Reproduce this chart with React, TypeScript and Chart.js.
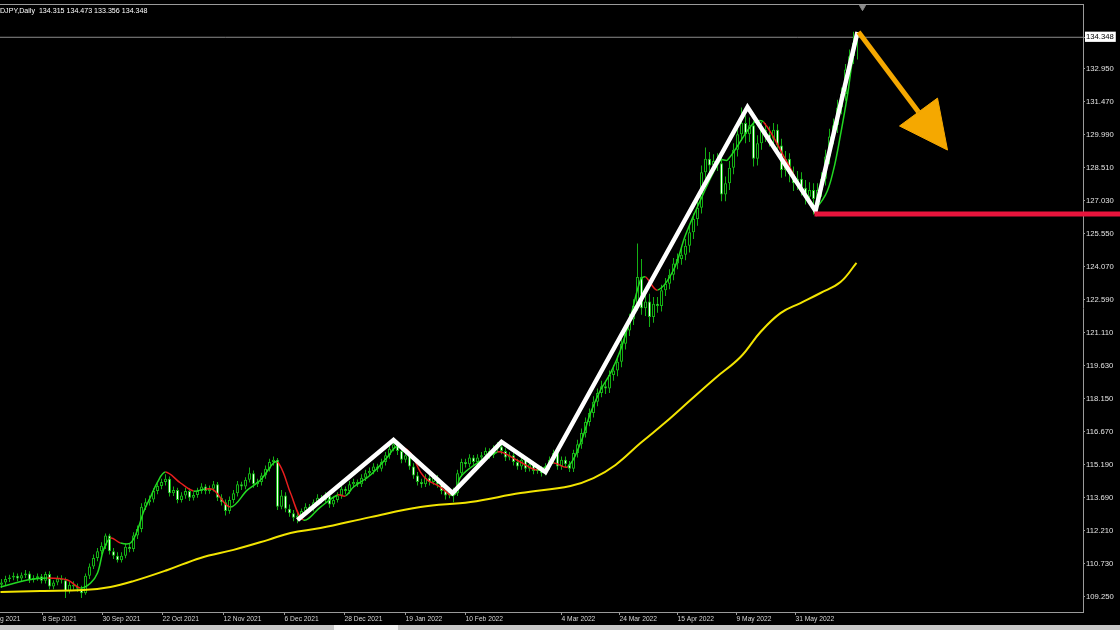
import React, { useEffect, useRef } from "react";
import { Chart, registerables } from "chart.js";

Chart.register(...registerables);

const SYMBOL = "USDJPY,Daily";

// Daily candles (bar index 0 = first visible bar)
const opens = [
  109.80,109.90,110.05,110.12,110.20,110.08,110.22,110.30,110.02,110.10,
  110.18,109.98,110.28,109.72,109.90,110.08,110.00,109.52,109.80,109.72,
  109.62,109.42,110.20,110.62,111.00,111.30,111.55,112.00,111.30,111.10,
  110.90,111.10,111.50,111.40,112.00,112.30,113.30,113.50,113.62,114.00,
  114.22,114.40,114.55,113.90,114.05,113.60,113.80,114.00,113.70,113.82,
  114.00,114.20,114.00,114.10,114.30,113.70,113.50,113.10,113.60,113.90,
  114.30,114.20,114.50,114.80,114.30,114.40,114.70,115.00,115.30,115.40,
  113.30,113.80,113.20,113.00,112.80,112.90,113.10,113.30,113.20,113.50,
  113.70,113.60,113.80,113.40,113.60,113.80,114.10,114.00,114.30,114.40,
  114.30,114.60,114.80,114.90,115.10,115.00,115.30,115.60,115.90,116.10,
  115.80,115.40,115.60,115.10,114.70,114.40,114.30,114.60,114.40,114.60,
  114.30,114.00,113.80,114.00,113.90,114.80,115.30,115.20,115.50,115.30,
  115.50,115.60,115.80,115.60,115.90,116.00,115.80,115.50,115.60,115.30,
  115.10,115.40,115.00,115.20,114.90,115.00,114.80,115.10,115.40,115.70,
  115.10,115.40,115.20,115.00,115.70,116.10,116.60,117.10,117.50,118.00,
  118.40,118.70,118.60,119.20,119.40,119.80,120.60,121.20,121.70,122.30,
  123.60,122.20,122.50,121.80,122.40,122.30,123.00,123.30,123.70,124.20,
  124.40,124.60,125.00,125.60,126.20,126.70,128.30,128.90,128.60,128.80,
  128.70,127.30,127.80,128.50,129.30,130.00,130.50,130.00,130.40,128.90,
  129.60,130.20,130.00,129.80,130.20,129.50,128.40,128.90,128.20,127.80,
  128.00,127.60,127.20,127.50,127.10,127.50,128.00,129.00,129.90,130.40,
  131.20,131.80,132.90,133.50,134.315,
];
const highs = [
  110.05,110.20,110.25,110.35,110.30,110.35,110.46,110.40,110.22,110.30,
  110.28,110.38,110.40,110.00,110.20,110.22,110.12,109.92,109.95,109.85,
  109.75,110.30,110.75,111.15,111.45,111.70,112.10,112.08,111.45,111.25,
  111.25,111.62,111.65,112.15,112.45,113.45,113.68,113.80,114.12,114.35,
  114.55,114.75,114.65,114.20,114.15,113.95,114.15,114.12,113.95,114.15,
  114.35,114.30,114.25,114.45,114.40,113.85,113.62,113.75,114.05,114.45,
  114.42,114.62,115.05,114.92,114.55,114.82,115.15,115.45,115.55,115.48,
  114.05,113.95,113.40,113.15,113.05,113.22,113.45,113.42,113.62,113.85,
  113.82,113.95,113.92,113.75,113.95,114.25,114.20,114.45,114.55,114.52,
  114.75,114.95,115.05,115.25,115.22,115.45,115.75,116.05,116.30,116.22,
  115.95,115.75,115.80,115.25,114.85,114.55,114.75,114.72,114.75,114.72,
  114.42,114.15,114.12,114.15,114.95,115.45,115.45,115.65,115.62,115.65,
  115.75,115.95,115.92,116.05,116.20,116.30,115.92,115.75,115.72,115.45,
  115.55,115.52,115.35,115.32,115.15,115.12,115.25,115.55,115.85,115.82,
  115.55,115.55,115.35,115.85,116.30,116.80,117.30,117.70,118.25,118.60,
  118.95,118.95,119.40,119.65,120.05,120.85,121.45,121.95,122.60,125.10,
  124.40,123.00,122.85,122.70,122.70,123.25,123.55,123.95,124.45,124.65,
  124.90,125.30,125.90,126.45,127.00,128.60,129.40,129.20,129.10,129.15,
  129.00,128.10,128.80,129.60,130.35,131.20,130.85,130.75,130.60,129.95,
  130.55,130.50,130.35,130.50,130.45,129.80,129.25,129.15,128.55,128.35,
  128.30,127.95,127.85,127.80,127.80,128.30,129.30,130.25,130.70,131.55,
  132.10,133.15,133.80,134.60,134.473,
];
const lows = [
  109.65,109.78,109.92,110.00,109.95,109.95,110.10,109.88,109.90,109.98,
  109.85,109.85,109.60,109.60,109.78,109.85,109.20,109.40,109.58,109.48,
  109.20,109.35,110.05,110.50,110.85,111.15,111.40,111.15,110.95,110.80,
  110.80,110.98,111.25,111.28,111.85,112.15,113.15,113.35,113.48,113.85,
  114.08,114.25,113.75,113.78,113.45,113.48,113.65,113.55,113.58,113.70,
  113.88,113.85,113.88,113.98,113.55,113.35,112.90,112.98,113.45,113.75,
  114.05,114.08,114.38,114.15,114.18,114.25,114.55,114.88,115.15,113.15,
  113.18,113.05,112.85,112.65,112.55,112.78,112.98,113.05,113.08,113.38,
  113.45,113.48,113.25,113.28,113.48,113.65,113.85,113.88,114.15,114.18,
  114.18,114.45,114.68,114.75,114.85,114.88,115.15,115.45,115.78,115.62,
  115.25,115.28,114.95,114.55,114.25,114.15,114.18,114.25,114.28,114.15,
  113.85,113.62,113.68,113.50,113.78,114.65,115.05,115.08,115.15,115.18,
  115.38,115.45,115.45,115.48,115.75,115.65,115.35,115.38,115.15,114.95,
  114.95,114.85,114.88,114.75,114.78,114.65,114.70,114.95,115.25,114.95,
  114.95,115.05,114.85,114.85,115.50,115.90,116.40,116.90,117.30,117.80,
  118.20,118.35,118.40,118.95,119.15,119.55,120.35,120.95,121.45,122.10,
  121.90,121.85,121.35,121.55,122.00,122.05,122.75,123.05,123.45,123.95,
  124.15,124.35,124.70,125.30,125.90,126.45,127.95,128.20,128.25,128.35,
  127.00,127.00,127.50,128.20,129.00,129.70,129.60,129.65,128.55,128.60,
  129.30,129.65,129.45,129.50,129.15,128.05,128.10,127.85,127.45,127.50,
  127.25,126.85,126.90,126.40,126.80,127.20,127.70,128.65,129.55,130.05,
  130.90,131.50,132.55,133.15,133.356,
];
const closes = [
  109.90,110.05,110.12,110.20,110.08,110.22,110.30,110.02,110.10,110.18,
  109.98,110.28,109.72,109.90,110.08,110.00,109.52,109.80,109.72,109.62,
  109.42,110.20,110.62,111.00,111.30,111.55,112.00,111.30,111.10,110.90,
  111.10,111.50,111.40,112.00,112.30,113.30,113.50,113.62,114.00,114.22,
  114.40,114.55,113.90,114.05,113.60,113.80,114.00,113.70,113.82,114.00,
  114.20,114.00,114.10,114.30,113.70,113.50,113.10,113.60,113.90,114.30,
  114.20,114.50,114.80,114.30,114.40,114.70,115.00,115.30,115.40,113.30,
  113.80,113.20,113.00,112.80,112.90,113.10,113.30,113.20,113.50,113.70,
  113.60,113.80,113.40,113.60,113.80,114.10,114.00,114.30,114.40,114.30,
  114.60,114.80,114.90,115.10,115.00,115.30,115.60,115.90,116.10,115.80,
  115.40,115.60,115.10,114.70,114.40,114.30,114.60,114.40,114.60,114.30,
  114.00,113.80,114.00,113.90,114.80,115.30,115.20,115.50,115.30,115.50,
  115.60,115.80,115.60,115.90,116.00,115.80,115.50,115.60,115.30,115.10,
  115.40,115.00,115.20,114.90,115.00,114.80,115.10,115.40,115.70,115.10,
  115.40,115.20,115.00,115.70,116.10,116.60,117.10,117.50,118.00,118.40,
  118.70,118.60,119.20,119.40,119.80,120.60,121.20,121.70,122.30,123.60,
  122.20,122.50,121.80,122.40,122.30,123.00,123.30,123.70,124.20,124.40,
  124.60,125.00,125.60,126.20,126.70,128.30,128.90,128.60,128.80,128.70,
  127.30,127.80,128.50,129.30,130.00,130.50,130.00,130.40,128.90,129.60,
  130.20,130.00,129.80,130.20,129.50,128.40,128.90,128.20,127.80,128.00,
  127.60,127.20,127.50,127.10,127.50,128.00,129.00,129.90,130.40,131.20,
  131.80,132.90,133.50,134.10,134.348,
];

// Fast moving average (green rising / red falling), read at bar positions
const fastMaIdx = [-0.25,6.5,11.5,16.5,19.75,22.25,24,25.5,27.25,29.75,32.25,34,35.5,37.25,39,41,44.75,48,51,53,57.25,61.5,64.75,68,69,70.5,72.25,75.5,79.75,84,86,88,92.25,96.5,98.5,100.25,102.25,104.75,106.5,109.75,112.25,113.5,114.75,119,124,125.5,129.75,134,138,141.5,144.75,147.25,149.75,152.25,154.75,157.25,159.75,161,164,168,171,174.75,179.75,181.5,188,190.5,196.5,203,206,208,209.75,211.5,212.75,214];
const fastMaVal = [109.70,110.01,110.10,110.01,109.65,109.87,110.32,111.36,111.89,111.67,111.67,112.25,113.06,113.73,114.40,114.85,114.36,114.00,114.09,114.05,113.28,114.05,114.49,115.26,115.30,114.81,113.91,112.70,113.28,113.82,113.78,114.18,114.72,115.53,115.97,115.97,115.71,114.85,114.49,114.18,113.82,113.87,114.63,115.26,115.75,115.71,115.30,114.94,115.26,115.08,116.15,117.50,118.53,119.29,120.32,121.80,123.46,123.60,123.01,123.91,125.48,127.05,128.84,128.84,130.50,130.55,128.71,126.74,127.28,128.40,129.97,131.76,133.33,134.45];

// Slow moving average (yellow)
const slowMaIdx = [-0.25,9.75,20.5,27.25,33,41.5,49.75,58,66.5,72.25,79.75,92.25,104.75,117.25,129.75,142.25,148,153.5,159.75,166,172.25,178.5,184.75,189.75,194.75,199.75,204.75,209.75,213.75];
const slowMaVal = [109.47,109.52,109.56,109.70,109.96,110.46,111.00,111.36,111.80,112.12,112.34,112.83,113.28,113.51,113.91,114.23,114.58,115.17,116.15,117.08,118.08,119.07,120.01,121.13,121.98,122.43,122.88,123.37,124.23];

// Hand-drawn objects
const zigzagIdx = [74, 98, 112.75, 125, 136, 186.5, 203.5, 214];
const zigzagPrice = [112.70, 116.29, 113.91, 116.20, 114.85, 131.22, 126.56, 134.58];
const supportIdx = [203.25, 279.75];
const supportLevel = 126.42;
const arrowShaftIdx = [214.25, 229.25];
const arrowShaftPrice = [134.585, 131.0];
const arrowHeadIdx = [224.5, 234, 236.5, 224.5];
const arrowHeadPrice = [130.37, 131.62, 129.29, 130.37];
const shiftMarkerIdx = 215.25;
const shiftMarkerPrice = 135.70;

// Axes
const xTickIdx = [-4.75, 10.25, 25.25, 40.25, 55.5, 70.75, 85.75, 101, 116, 140, 154.5, 169, 183.75, 198.5];
const xTickLabels = ["17 Aug 2021","8 Sep 2021","30 Sep 2021","22 Oct 2021","12 Nov 2021","6 Dec 2021","28 Dec 2021","19 Jan 2022","10 Feb 2022","4 Mar 2022","24 Mar 2022","15 Apr 2022","9 May 2022","31 May 2022"];
const yTickValues = [109.25,110.73,112.21,113.69,115.19,116.67,118.15,119.63,121.11,122.59,124.07,125.55,127.03,128.51,129.99,131.47,132.95];
const X_MIN = -15.375;
const X_MAX = 270.375;
const Y_MIN = 108.575;
const Y_MAX = 135.84;

const SHIFT = 60; // canvas is shifted left so the first date label is cut like the original

export default function App() {
  const ref = useRef<HTMLCanvasElement>(null);

  useEffect(() => {
    const canvas = ref.current as HTMLCanvasElement;
    const last = closes.length - 1;
    const lastClose = closes[last];
    const candleGreen = "#14b014";
    const axisGray = "#9a9a9a";
    const font = '"Liberation Sans", Arial, sans-serif';

    const bodies = closes.map((c, i) => ({ x: i, y: [opens[i], c] }));
    const wicks = closes.map((_, i) => ({ x: i, y: [lows[i], highs[i]] }));
    const pts = (xs: number[], ys: number[]) => xs.map((x, i) => ({ x, y: ys[i] }));

    const headerPlugin = {
      id: "header",
      afterDraw(chart: any) {
        const { ctx, chartArea } = chart;
        ctx.save();
        ctx.font = `7.1px ${font}`;
        ctx.fillStyle = "#ffffff";
        ctx.textBaseline = "middle";
        const text = `${SYMBOL}  ${opens[last].toFixed(3)} ${highs[last].toFixed(3)} ${lows[last].toFixed(3)} ${lastClose.toFixed(3)}`;
        const cut = ctx.measureText("US").width;
        ctx.fillText(text, chartArea.left + SHIFT - cut, 11);
        ctx.restore();
      },
    };

    const chart = new Chart(canvas, {
      type: "bar",
      data: {
        datasets: [
          {
            type: "line",
            data: [{ x: X_MIN, y: lastClose }, { x: X_MAX, y: lastClose }],
            borderColor: "#8c8c8c",
            borderWidth: 1,
            pointRadius: 0,
            order: 6,
            xAxisID: "x",
            yAxisID: "y",
          },
          {
            type: "bar",
            data: wicks,
            backgroundColor: candleGreen,
            borderWidth: 0,
            barThickness: 1,
            grouped: false,
            inflateAmount: 0,
            order: 5,
            xAxisID: "x",
            yAxisID: "y",
          },
          {
            type: "bar",
            data: bodies,
            backgroundColor: (c: any) =>
              closes[c.dataIndex] >= opens[c.dataIndex] ? "#000000" : "#f2fff2",
            borderColor: candleGreen,
            borderWidth: 1,
            borderSkipped: false,
            barThickness: 3,
            grouped: false,
            inflateAmount: 0,
            order: 4,
            xAxisID: "x",
            yAxisID: "y",
          },
          {
            type: "line",
            data: pts(slowMaIdx, slowMaVal),
            borderColor: "#f2e400",
            borderWidth: 2,
            pointRadius: 0,
            tension: 0.4,
            order: 3,
            xAxisID: "x",
            yAxisID: "y",
          },
          {
            type: "line",
            data: pts(fastMaIdx, fastMaVal),
            borderColor: "#22d822",
            borderWidth: 1.5,
            pointRadius: 0,
            tension: 0.35,
            segment: {
              borderColor: (c: any) =>
                c.p1.parsed.y < c.p0.parsed.y - 0.01 ? "#e81e1e" : "#22d822",
            },
            order: 2,
            xAxisID: "x",
            yAxisID: "y",
          },
          {
            type: "line",
            data: pts(zigzagIdx, zigzagPrice),
            borderColor: "#ffffff",
            borderWidth: 4.5,
            borderJoinStyle: "miter",
            pointRadius: 0,
            tension: 0,
            order: 1,
            xAxisID: "x",
            yAxisID: "y",
          },
          {
            type: "line",
            data: supportIdx.map((x) => ({ x, y: supportLevel })),
            borderColor: "#e8143c",
            borderWidth: 5,
            pointRadius: 0,
            clip: false,
            order: 0,
            xAxisID: "x",
            yAxisID: "y",
          },
          {
            type: "line",
            data: pts(arrowShaftIdx, arrowShaftPrice),
            borderColor: "#f5a800",
            borderWidth: 5,
            pointRadius: 0,
            clip: false,
            order: 0,
            xAxisID: "x",
            yAxisID: "y",
          },
          {
            type: "line",
            data: pts(arrowHeadIdx, arrowHeadPrice),
            borderColor: "#f5a800",
            backgroundColor: "#f5a800",
            borderWidth: 1,
            fill: "shape",
            pointRadius: 0,
            tension: 0,
            clip: false,
            order: 0,
            xAxisID: "x",
            yAxisID: "y",
          },
          {
            type: "line",
            data: [{ x: shiftMarkerIdx, y: shiftMarkerPrice }],
            showLine: false,
            pointStyle: "triangle",
            rotation: 180,
            pointRadius: 3.5,
            pointBackgroundColor: "#8c8c8c",
            pointBorderColor: "#8c8c8c",
            clip: false,
            order: 0,
            xAxisID: "x",
            yAxisID: "y",
          },
        ],
      } as any,
      options: {
        animation: false,
        responsive: false,
        devicePixelRatio: 1,
        events: [],
        layout: { padding: 0, autoPadding: false },
        plugins: {
          legend: { display: false },
          tooltip: { enabled: false },
          title: { display: false },
        },
        scales: {
          x: {
            type: "linear",
            position: "bottom",
            min: X_MIN,
            max: X_MAX,
            offset: false,
            afterBuildTicks: (s: any) => {
              s.ticks = xTickIdx.map((v) => ({ value: v }));
            },
            afterFit: (s: any) => {
              s.height = 13;
              s.paddingLeft = 0;
              s.paddingRight = 0;
            },
            ticks: {
              autoSkip: false,
              maxRotation: 0,
              minRotation: 0,
              align: "start",
              padding: 0,
              color: "#d6d6d6",
              font: { family: font, size: 6.7 },
              callback: (_v: any, i: number) => xTickLabels[i],
            },
            grid: {
              display: true,
              drawOnChartArea: false,
              drawTicks: true,
              tickLength: 3,
              color: axisGray,
              offset: false,
            },
            border: { display: true, color: axisGray, width: 1 },
          },
          xTop: {
            type: "linear",
            position: "top",
            min: 0,
            max: 1,
            ticks: { display: false },
            grid: { display: false, drawTicks: false },
            border: { display: true, color: axisGray, width: 1 },
            afterFit: (s: any) => {
              s.height = 4;
              s.paddingLeft = 0;
              s.paddingRight = 0;
            },
          },
          y: {
            type: "linear",
            position: "right",
            min: Y_MIN,
            max: Y_MAX,
            beginAtZero: false,
            afterBuildTicks: (s: any) => {
              s.ticks = [...yTickValues, lastClose].map((v) => ({ value: v }));
            },
            afterFit: (s: any) => {
              s.width = 37;
              s.paddingTop = 0;
              s.paddingBottom = 0;
            },
            ticks: {
              autoSkip: false,
              padding: 1,
              font: { family: font, size: 7.7 },
              color: (c: any) => (c.tick && c.tick.value === lastClose ? "#000000" : "#e2e2e2"),
              showLabelBackdrop: (c: any) => !!(c.tick && c.tick.value === lastClose),
              backdropColor: "#ffffff",
              backdropPadding: { left: 1, right: 2, top: 1, bottom: 0 },
              callback: (v: any) => Number(v).toFixed(3),
            },
            grid: {
              display: true,
              drawOnChartArea: false,
              drawTicks: true,
              tickLength: 2,
              color: axisGray,
            },
            border: { display: true, color: axisGray, width: 1 },
          },
        },
      } as any,
      plugins: [headerPlugin],
    });
    return () => chart.destroy();
  }, []);

  return (
    <div
      style={{
        position: "fixed",
        left: 0,
        top: 0,
        width: 1120,
        height: 630,
        overflow: "hidden",
        background: "#000000",
      }}
    >
      <canvas
        ref={ref}
        width={1120 + SHIFT}
        height={625}
        style={{ position: "absolute", left: -SHIFT, top: 0, width: 1120 + SHIFT, height: 625 }}
      />
      <div
        style={{
          position: "absolute",
          left: 0,
          top: 625,
          width: 1120,
          height: 5,
          background: "#c8c8c8",
        }}
      >
        <div
          style={{
            position: "absolute",
            left: 334,
            top: 0,
            width: 64,
            height: 5,
            background: "#f4f4f4",
          }}
        />
      </div>
    </div>
  );
}
